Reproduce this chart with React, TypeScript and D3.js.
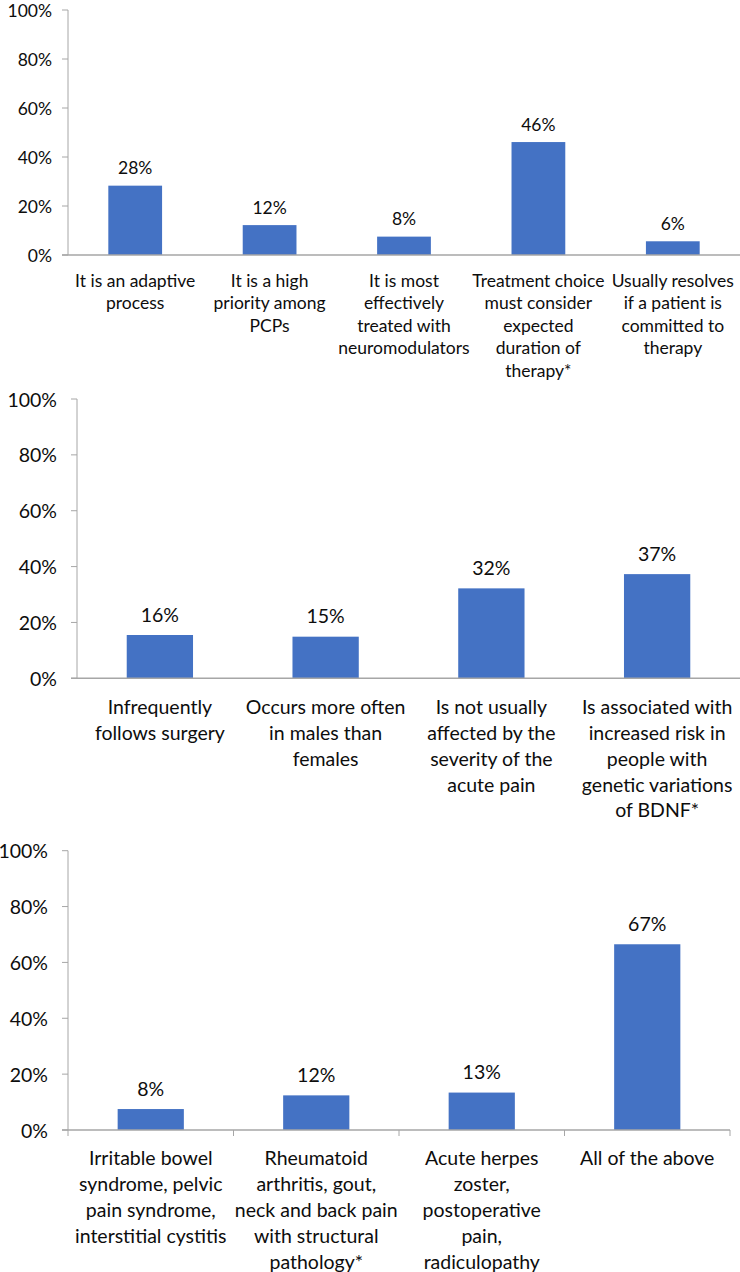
import * as d3 from 'd3';

// Question 1
const q1Labels = [
  ['It is an adaptive', 'process'],
  ['It is a high', 'priority among', 'PCPs'],
  ['It is most', 'effectively', 'treated with', 'neuromodulators'],
  ['Treatment choice', 'must consider', 'expected', 'duration of', 'therapy*'],
  ['Usually resolves', 'if a patient is', 'committed to', 'therapy'],
];
const q1Values = [28.3, 12.2, 7.5, 46.1, 5.6];

// Question 2
const q2Labels = [
  ['Infrequently', 'follows surgery'],
  ['Occurs more often', 'in males than', 'females'],
  ['Is not usually', 'affected by the', 'severity of the', 'acute pain'],
  ['Is associated with', 'increased risk in', 'people with', 'genetic variations', 'of BDNF*'],
];
const q2Values = [15.5, 14.9, 32.2, 37.3];

// Question 3
const q3Labels = [
  ['Irritable bowel', 'syndrome, pelvic', 'pain syndrome,', 'interstitial cystitis'],
  ['Rheumatoid', 'arthritis, gout,', 'neck and back pain', 'with structural', 'pathology*'],
  ['Acute herpes', 'zoster,', 'postoperative', 'pain,', 'radiculopathy'],
  ['All of the above'],
];
const q3Values = [7.5, 12.4, 13.4, 66.5];

const yTicks = [0, 20, 40, 60, 80, 100];

const BAR = '#4472C4';
const AXIS = '#a6a6a6';
const TEXT = '#0d0d0d';
const FONT = 'Lato, "Open Sans", sans-serif';

interface PanelProps {
  labels: string[][];
  values: number[];
  x0: number;
  x1: number;
  yTop: number;
  yBottom: number;
  fontSize: number;
  lineHeight: number;
  firstLine: number; // offset of first label line center below axis
  valueGap: number; // offset of value label center above bar top
  tickGap: number;
  xTicks: boolean;
}

const Panel = ({ labels, values, x0, x1, yTop, yBottom, fontSize, lineHeight, firstLine, valueGap, tickGap, xTicks }: PanelProps) => {
  const cats = labels.map((_, i) => String(i));
  const x = d3.scaleBand().domain(cats).range([x0, x1]).paddingInner(0.6).paddingOuter(0.3);
  const y = d3.scaleLinear().domain([0, 100]).range([yBottom, yTop]);
  const step = x.step();
  const mid = (i: number) => (x(String(i)) ?? 0) + x.bandwidth() / 2;

  return (
    <g fontFamily={FONT} fill={TEXT}>
      {/* y axis */}
      <line x1={x0} x2={x0} y1={yTop} y2={yBottom} stroke={AXIS} strokeWidth={1} />
      {yTicks.map(t => (
        <g key={t}>
          <line x1={x0 - 6} x2={x0} y1={y(t)} y2={y(t)} stroke={AXIS} strokeWidth={1} />
          <text x={x0 - tickGap} y={y(t)} textAnchor="end" dominantBaseline="central" fontSize={fontSize}>
            {t}%
          </text>
        </g>
      ))}
      {/* bars */}
      {values.map((v, i) => (
        <g key={i}>
          <rect x={x(String(i))} y={y(v)} width={x.bandwidth()} height={yBottom - y(v)} fill={BAR} />
          <text x={mid(i)} y={y(v) - valueGap} textAnchor="middle" dominantBaseline="central" fontSize={fontSize}>
            {Math.round(v)}%
          </text>
        </g>
      ))}
      {/* x axis */}
      <line x1={x0 - 6} x2={x1} y1={yBottom} y2={yBottom} stroke={AXIS} strokeWidth={1.5} />
      {xTicks &&
        d3.range(cats.length + 1).map(k => (
          <line key={k} x1={x0 + k * step} x2={x0 + k * step} y1={yBottom} y2={yBottom + 6} stroke={AXIS} strokeWidth={1} />
        ))}
      {labels.map((lines, i) => (
        <text key={i} textAnchor="middle" fontSize={fontSize}>
          {lines.map((ln, j) => (
            <tspan key={j} x={mid(i)} y={yBottom + firstLine + j * lineHeight} dominantBaseline="central">
              {ln}
            </tspan>
          ))}
        </text>
      ))}
    </g>
  );
};

export default function App() {
  return (
    <svg width={740} height={1272} style={{ position: 'absolute', left: 0, top: 0, background: '#fff' }}>
      <rect width={740} height={1272} fill="#fff" />
      <Panel
        labels={q1Labels}
        values={q1Values}
        x0={68}
        x1={740}
        yTop={10}
        yBottom={255}
        fontSize={17.5}
        lineHeight={22.5}
        firstLine={25}
        valueGap={17.7}
        tickGap={16}
        xTicks={false}
      />
      <Panel
        labels={q2Labels}
        values={q2Values}
        x0={77}
        x1={740}
        yTop={399}
        yBottom={678.3}
        fontSize={19.5}
        lineHeight={25.8}
        firstLine={28.4}
        valueGap={21}
        tickGap={20}
        xTicks={false}
      />
      <Panel
        labels={q3Labels}
        values={q3Values}
        x0={68}
        x1={730}
        yTop={850.7}
        yBottom={1130}
        fontSize={19.5}
        lineHeight={26}
        firstLine={27.7}
        valueGap={21}
        tickGap={20}
        xTicks={true}
      />
    </svg>
  );
}
